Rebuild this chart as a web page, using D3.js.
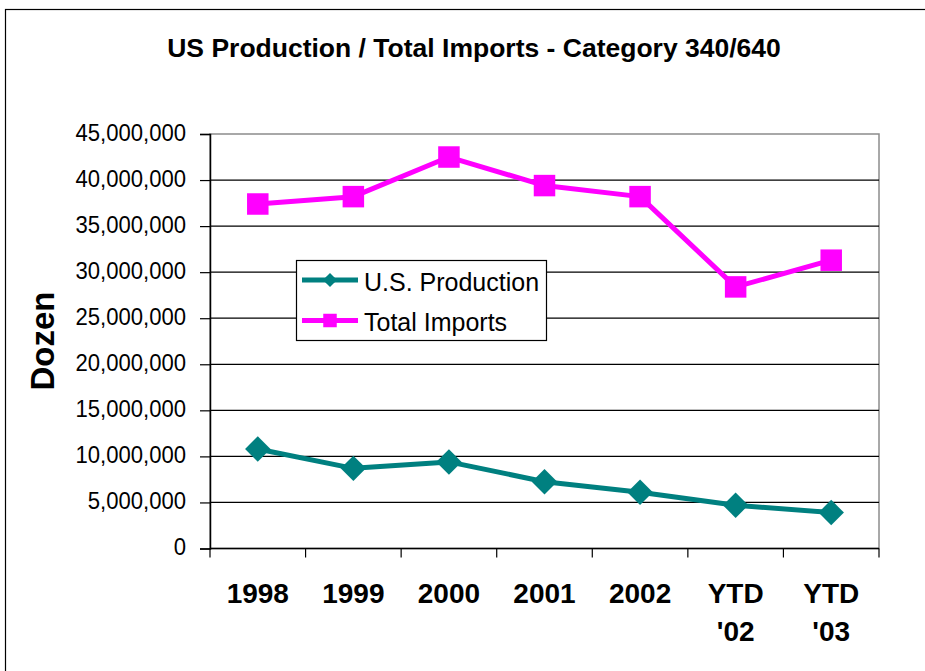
<!DOCTYPE html>
<html>
<head>
<meta charset="utf-8">
<script src="https://cdn.jsdelivr.net/npm/d3@7"></script>
<style>
  body { margin: 0; background: #fff; }
  text { font-family: "Liberation Sans", Arial, sans-serif; }
</style>
</head>
<body>
<div id="chart"></div>
<script>
// chart values
var categories = ["1998", "1999", "2000", "2001", "2002", "YTD\n'02", "YTD\n'03"];
var usProduction = [10800000, 8700000, 9400000, 7250000, 6100000, 4700000, 3900000];
var totalImports = [37400000, 38200000, 42500000, 39400000, 38200000, 28400000, 31300000];
var yTicks = [0, 5000000, 10000000, 15000000, 20000000, 25000000, 30000000, 35000000, 40000000, 45000000];
var seriesNames = ["U.S. Production", "Total Imports"];
var seriesColors = ["#008080", "#ff00ff"];

var width = 925, height = 671;
var plot = {left: 210, right: 879, top: 134, bottom: 548.5};

var svg = d3.select("#chart").append("svg")
    .attr("width", width)
    .attr("height", height);

/* outer frame of the chart */
svg.append("rect")
    .attr("x", 5.5).attr("y", 9.5)
    .attr("width", 960).attr("height", 700)
    .attr("fill", "none").attr("stroke", "#000").attr("stroke-width", 1.2);

var x = d3.scaleBand()
    .domain(categories)
    .range([plot.left, plot.right])
    .padding(0);

var y = d3.scaleLinear()
    .domain([0, 45000000])
    .range([plot.bottom, plot.top]);

var fmt = d3.format(",");

/* plot area border (gray) */
svg.append("rect")
    .attr("x", plot.left).attr("y", plot.top)
    .attr("width", plot.right - plot.left).attr("height", plot.bottom - plot.top)
    .attr("fill", "none").attr("stroke", "#8c8c8c").attr("stroke-width", 1.5);

/* gridlines */
svg.append("g").selectAll("line")
    .data(yTicks.filter(function(d) { return d > 0 && d < 45000000; }))
    .enter().append("line")
    .attr("x1", plot.left).attr("x2", plot.right)
    .attr("y1", function(d) { return y(d); })
    .attr("y2", function(d) { return y(d); })
    .attr("stroke", "#000").attr("stroke-width", 1.2);

/* y axis */
var yAxis = svg.append("g")
    .attr("transform", "translate(" + plot.left + ",0)")
    .call(d3.axisLeft(y).tickValues(yTicks).tickSize(10).tickFormat(""));
yAxis.select(".domain").attr("stroke", "#000").attr("stroke-width", 1.5);
yAxis.selectAll(".tick line").attr("stroke", "#000").attr("stroke-width", 1.2);

/* y tick labels, slightly condensed like the original */
svg.append("g").selectAll("text")
    .data(yTicks)
    .enter().append("text")
    .attr("transform", function(d) { return "translate(186," + (y(d) + 6.5) + ") scale(0.94,1)"; })
    .attr("text-anchor", "end")
    .style("font-size", "23.5px")
    .style("fill", "#000")
    .text(function(d) { return fmt(d); });

/* x axis */
svg.append("line")
    .attr("x1", plot.left).attr("x2", plot.right)
    .attr("y1", plot.bottom).attr("y2", plot.bottom)
    .attr("stroke", "#000").attr("stroke-width", 1.5);

var edges = categories.map(function(c) { return x(c); }).concat([plot.right]);
svg.append("g").selectAll("line")
    .data(edges)
    .enter().append("line")
    .attr("x1", function(d) { return d; }).attr("x2", function(d) { return d; })
    .attr("y1", plot.bottom).attr("y2", plot.bottom + 9)
    .attr("stroke", "#000").attr("stroke-width", 1.2);

var xl = svg.append("g").selectAll("text")
    .data(categories)
    .enter().append("text")
    .attr("x", function(d) { return x(d) + x.bandwidth() / 2; })
    .attr("y", 603)
    .attr("text-anchor", "middle")
    .style("font-size", "28px")
    .style("font-weight", "bold");
xl.each(function(d) {
    var t = d3.select(this);
    d.split("\n").forEach(function(part, i) {
        t.append("tspan")
            .attr("x", x(d) + x.bandwidth() / 2)
            .attr("dy", i === 0 ? 0 : 37.5)
            .text(part);
    });
});

/* title */
svg.append("text")
    .attr("x", 474).attr("y", 57)
    .attr("text-anchor", "middle")
    .style("font-size", "26.5px")
    .style("font-weight", "bold")
    .text("US Production / Total Imports - Category 340/640");

/* y axis title */
svg.append("text")
    .attr("transform", "translate(54,341) rotate(-90)")
    .attr("text-anchor", "middle")
    .style("font-size", "33px")
    .style("font-weight", "bold")
    .text("Dozen");

/* lines */
var line = d3.line()
    .x(function(d, i) { return x(categories[i]) + x.bandwidth() / 2; })
    .y(function(d) { return y(d); });

var diamond = d3.symbol().type(d3.symbolSquare).size(18 * 18);
var square = d3.symbol().type(d3.symbolSquare).size(21.5 * 21.5);

[usProduction, totalImports].forEach(function(series, s) {
    svg.append("path")
        .datum(series)
        .attr("d", line)
        .attr("fill", "none")
        .attr("stroke", seriesColors[s])
        .attr("stroke-width", 5)
        .attr("stroke-linejoin", "round");

    svg.append("g").selectAll("path")
        .data(series)
        .enter().append("path")
        .attr("d", s === 0 ? diamond : square)
        .attr("transform", function(d, i) {
            var t = "translate(" + (x(categories[i]) + x.bandwidth() / 2) + "," + y(d) + ")";
            return s === 0 ? t + " rotate(45)" : t;
        })
        .attr("fill", seriesColors[s]);
});

/* legend */
var legend = svg.append("g").attr("transform", "translate(296,260)");
legend.append("rect")
    .attr("x", 0.5).attr("y", 0.5)
    .attr("width", 250).attr("height", 80)
    .attr("fill", "#fff").attr("stroke", "#000").attr("stroke-width", 1.2);

var rows = legend.selectAll("g.row")
    .data(seriesNames)
    .enter().append("g")
    .attr("class", "row")
    .attr("transform", function(d, i) { return "translate(0," + (20 + i * 40.5) + ")"; });

rows.append("line")
    .attr("x1", 6).attr("x2", 62)
    .attr("stroke", function(d, i) { return seriesColors[i]; })
    .attr("stroke-width", 5);

rows.append("path")
    .attr("d", function(d, i) {
        return i === 0 ? d3.symbol().type(d3.symbolSquare).size(10 * 10)()
                       : d3.symbol().type(d3.symbolSquare).size(13.5 * 13.5)();
    })
    .attr("transform", function(d, i) { return "translate(34,0)" + (i === 0 ? " rotate(45)" : ""); })
    .attr("fill", function(d, i) { return seriesColors[i]; });

rows.append("text")
    .attr("x", 68)
    .attr("y", 10.5)
    .style("font-size", "25px")
    .text(function(d) { return d; });
</script>
</body>
</html>
